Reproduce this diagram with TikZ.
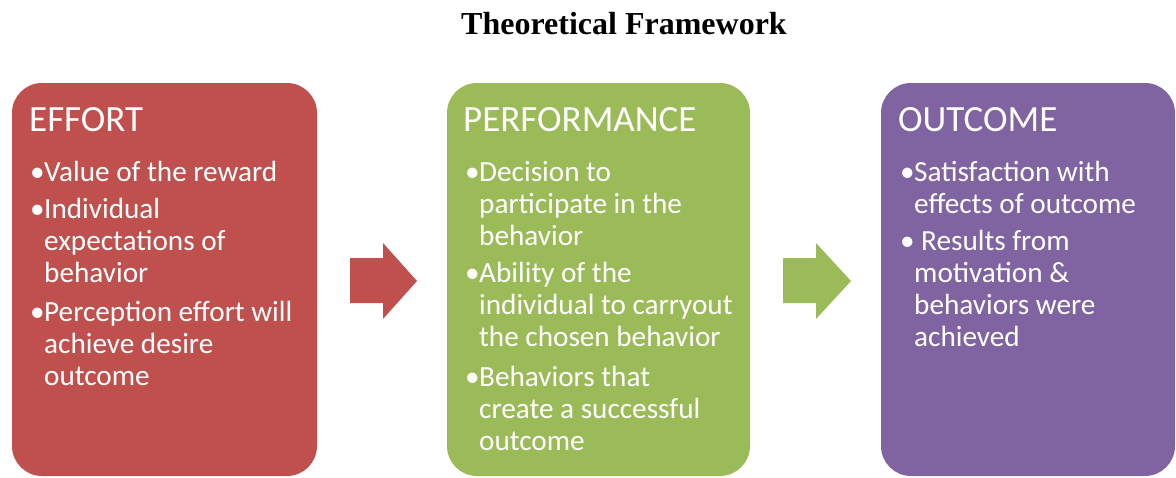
\documentclass[tikz,border=0pt]{standalone}
\usepackage{fontspec}
\setmainfont{Carlito}
\newfontfamily\titlefont{Liberation Serif}
\definecolor{effortred}{HTML}{C0504D}
\definecolor{perfgreen}{HTML}{9BBB59}
\definecolor{outpurple}{HTML}{8064A2}

% bullet with hanging indent for the following lines
\newcommand\bul[1]{\makebox[14pt][l]{\textbullet}\parbox[t]{290pt}{\raggedright #1}}

\tikzset{
  stagebox/.style={rounded corners=30pt, minimum width=#1, minimum height=393pt,
    inner sep=0pt, draw=none},
  heading/.style={anchor=base west, inner sep=0pt, text=white,
    font=\fontsize{37}{40}\selectfont},
  itemtext/.style={anchor=base west, inner sep=0pt, text=white,
    font=\fontsize{29.2}{32.3}\selectfont},
}

\begin{document}
\begin{tikzpicture}[x=1pt, y=-1pt]
\useasboundingbox (0,0) rectangle (1176,477);

% title
\node[anchor=base, inner sep=0pt, font=\titlefont\bfseries\fontsize{32}{38}\selectfont]
  (title) at (624,34) {Theoretical Framework};

% stage boxes
\node[stagebox=305pt, fill=effortred]  (effort) at (164.5,279.5) {};
\node[stagebox=303pt, fill=perfgreen]  (perf)   at (598.5,279.5) {};
\node[stagebox=294pt, fill=outpurple]  (outc)   at (1028,279.5) {};

% effort
\node[heading] (effortH) at (29,131) {EFFORT};
\node[itemtext] (e1) at (30,181) {\bul{Value of the reward}};
\node[itemtext] (e2) at (30,218) {\bul{Individual\\expectations of\\behavior}};
\node[itemtext] (e3) at (30,321) {\bul{Perception effort will\\achieve desire\\outcome}};

% performance
\node[heading] (perfH) at (463,131) {PERFORMANCE};
\node[itemtext] (p1) at (465,181) {\bul{Decision to\\participate in the\\behavior}};
\node[itemtext] (p2) at (465,282) {\bul{Ability of the\\individual to carryout\\the chosen behavior}};
\node[itemtext] (p3) at (465,386) {\bul{Behaviors that\\create a successful\\outcome}};

% outcome
\node[heading] (outcH) at (898,131) {OUTCOME};
\node[itemtext] (o1) at (900,181) {\bul{Satisfaction with\\effects of outcome}};
\node[itemtext] (o2) at (900,250) {\bul{\hspace*{7pt}Results from\\motivation \&\\behaviors were\\achieved}};

% block arrows between the stages
\fill[effortred] (350,258) -- (383,258) -- (383,243) -- (417,281) -- (383,319)
  -- (383,303) -- (350,303) -- cycle;
\fill[perfgreen] (783,258) -- (816,258) -- (816,243) -- (851,281) -- (816,319)
  -- (816,303) -- (783,303) -- cycle;
\end{tikzpicture}
\end{document}
